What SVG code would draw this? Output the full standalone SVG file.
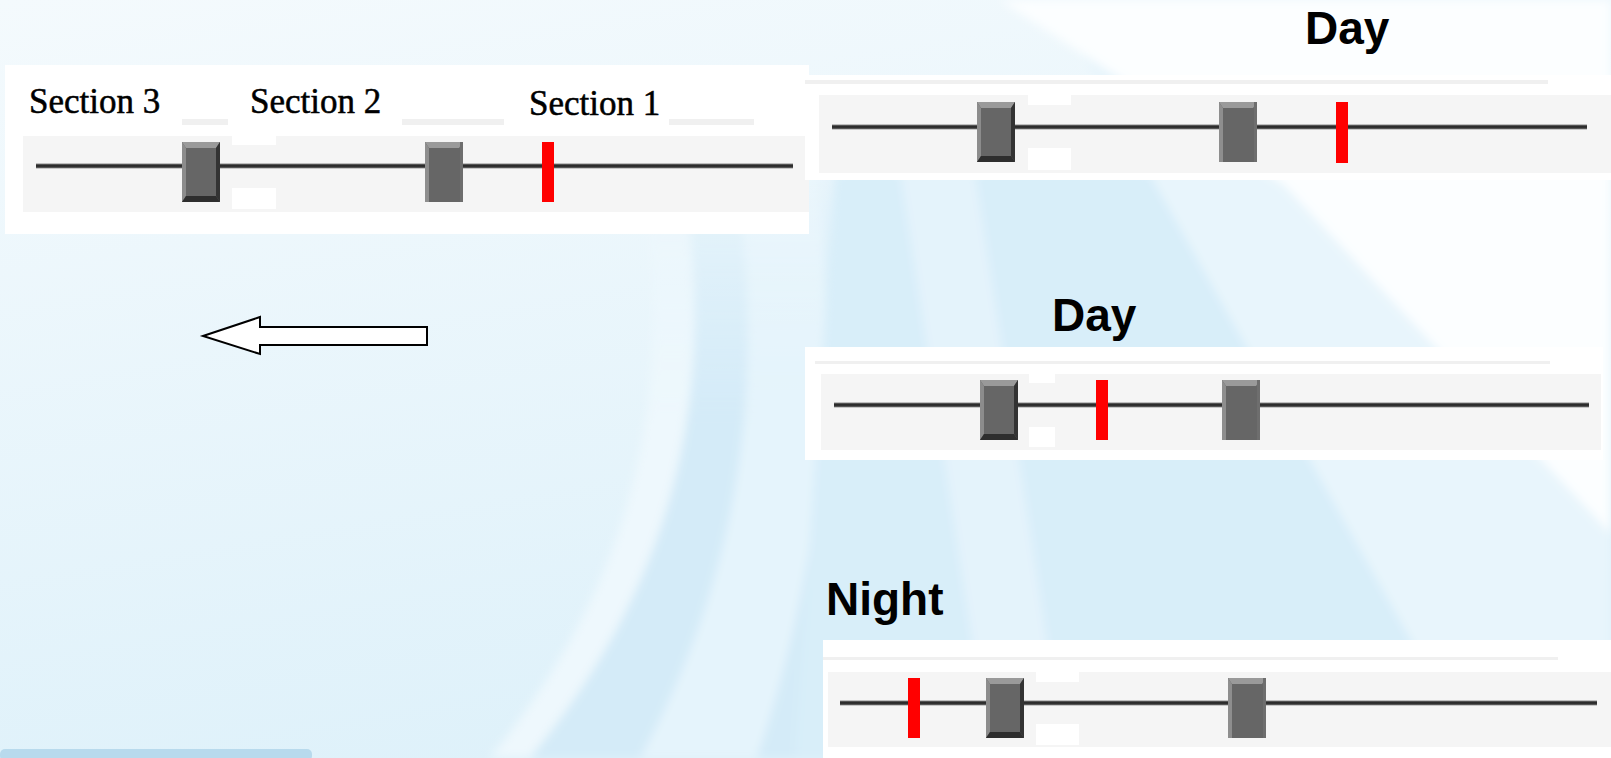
<svg xmlns="http://www.w3.org/2000/svg" xmlns:xlink="http://www.w3.org/1999/xlink" width="1611" height="758" viewBox="0 0 1611 758">
<style>
.sec{font-family:"Liberation Serif","Times New Roman",serif;font-size:35px;fill:#000;stroke:#000;stroke-width:0.5px}
.hd{font-family:"Liberation Sans",Arial,sans-serif;font-weight:bold;font-size:46px;fill:#000}
.panel{fill:#ffffff}
.track{fill:#f5f5f5}
.hair{fill:#f0f0f0}
.gap{fill:#ffffff}
.red{fill:#ff0000}
</style>
<defs>
<linearGradient id="bgGrad" x1="0" y1="0" x2="0.35" y2="1">
<stop offset="0" stop-color="#f4fafd"/>
<stop offset="1" stop-color="#def1fa"/>
</linearGradient>
<linearGradient id="fadeGrad" gradientUnits="userSpaceOnUse" x1="0" y1="120" x2="0" y2="420">
<stop offset="0" stop-color="#ffffff" stop-opacity="0"/>
<stop offset="1" stop-color="#ffffff" stop-opacity="1"/>
</linearGradient>
<mask id="fadeMask" maskUnits="userSpaceOnUse" x="0" y="0" width="1611" height="758">
<rect x="0" y="0" width="1611" height="758" fill="url(#fadeGrad)"/>
</mask>
<linearGradient id="lineGrad" x1="0" y1="0" x2="0" y2="1">
<stop offset="0" stop-color="#8a8a8a"/>
<stop offset="0.35" stop-color="#2a2a2a"/>
<stop offset="0.7" stop-color="#333333"/>
<stop offset="1" stop-color="#9a9a9a"/>
</linearGradient>
<filter id="soft" x="-5%" y="-5%" width="110%" height="110%">
<feGaussianBlur stdDeviation="5"/>
</filter>
<g id="thumbA">
<rect x="0" y="0" width="38" height="60" fill="#666666"/>
<polygon points="0,0 38,0 34,6 4,6" fill="#9a9a9a"/>
<polygon points="0,0 4,6 4,54 0,60" fill="#8c8c8c"/>
<polygon points="38,0 38,60 34,54 34,6" fill="#333333"/>
<polygon points="0,60 38,60 34,54 4,54" fill="#2e2e2e"/>
</g>
<g id="thumbB">
<rect x="0" y="0" width="38" height="60" fill="#666666"/>
<polygon points="0,0 38,0 34,6 4,6" fill="#9a9a9a"/>
<polygon points="0,0 4,6 4,60 0,60" fill="#8e8e8e"/>
<rect x="35" y="0" width="3" height="60" fill="#6e6e6e"/>
</g>
</defs>

<g id="background">
<rect x="0" y="0" width="1611" height="758" fill="url(#bgGrad)"/>
<g filter="url(#soft)">
<g mask="url(#fadeMask)">
<path d="M640,0 C715,250 740,500 530,758 L1611,758 L1611,0 Z" fill="#d4ebf8"/>
<path d="M700,0 C765,250 780,500 640,758 L757,758 C845,500 840,250 790,0 Z" fill="#e5f4fc"/>
<path d="M600,0 C672,250 700,500 490,758 L530,758 C740,500 715,250 640,0 Z" fill="#eef8fd"/>
</g>
<polygon points="835,172 1611,172 1611,758 795,758" fill="#d8eef9"/>
<polygon points="900,172 975,172 1065,758 990,758" fill="#e4f3fb"/>
<polygon points="1052,0 1611,0 1611,758 1477,758" fill="#e8f5fc"/>
<polygon points="1000,0 1611,0 1611,534 1428,339 1284,185" fill="#fcfeff"/>
</g>
<rect x="0" y="749" width="312" height="12" rx="5" fill="#b8daed"/>
</g>

<g id="panel-1">
<rect class="panel" x="5" y="65" width="804" height="169"/>
<rect class="hair" x="182" y="119" width="46" height="6"/>
<rect class="hair" x="402" y="119" width="102" height="6"/>
<rect class="hair" x="669" y="119" width="85" height="6"/>
<rect class="track" x="23" y="136" width="786" height="76"/>
<rect class="gap" x="232" y="136" width="44" height="9"/>
<rect class="gap" x="232" y="188" width="44" height="21"/>
<rect x="36" y="163.5" width="757" height="5" fill="url(#lineGrad)"/>
<use xlink:href="#thumbA" x="182" y="142"/>
<use xlink:href="#thumbB" x="425" y="142"/>
<rect class="red" x="542" y="142" width="12" height="60"/>
<text class="sec" x="29" y="113">Section 3</text>
<text class="sec" x="250" y="113">Section 2</text>
<text class="sec" x="529" y="115">Section 1</text>
</g>

<g id="panel-2">
<rect class="panel" x="805" y="75" width="806" height="105"/>
<rect class="hair" x="805" y="80" width="743" height="4"/>
<rect class="track" x="819" y="95" width="792" height="78"/>
<rect class="gap" x="1028" y="95" width="43" height="10"/>
<rect class="gap" x="1028" y="148" width="43" height="22"/>
<rect x="832" y="124.5" width="755" height="5" fill="url(#lineGrad)"/>
<use xlink:href="#thumbA" x="977" y="102"/>
<use xlink:href="#thumbB" x="1219" y="102"/>
<rect class="red" x="1336" y="102" width="12" height="61"/>
<text class="hd" x="1305" y="44">Day</text>
</g>

<g id="panel-3">
<rect class="panel" x="805" y="347" width="798" height="113"/>
<rect class="hair" x="815" y="361" width="735" height="3"/>
<rect class="track" x="821" y="374" width="780" height="76"/>
<rect class="gap" x="1029" y="374" width="26" height="9"/>
<rect class="gap" x="1029" y="427" width="26" height="20"/>
<rect x="834" y="402.5" width="755" height="5" fill="url(#lineGrad)"/>
<use xlink:href="#thumbA" x="980" y="380"/>
<rect class="red" x="1096" y="380" width="12" height="60"/>
<use xlink:href="#thumbB" x="1222" y="380"/>
<text class="hd" x="1052" y="331">Day</text>
</g>

<g id="panel-4">
<rect class="panel" x="823" y="640" width="788" height="118"/>
<rect class="hair" x="823" y="657" width="735" height="3"/>
<rect class="track" x="828" y="672" width="783" height="75"/>
<rect class="gap" x="1036" y="672" width="43" height="10"/>
<rect class="gap" x="1036" y="724" width="43" height="21"/>
<rect x="840" y="700.5" width="757" height="5" fill="url(#lineGrad)"/>
<rect class="red" x="908" y="678" width="12" height="60"/>
<use xlink:href="#thumbA" x="986" y="678"/>
<use xlink:href="#thumbB" x="1228" y="678"/>
<text class="hd" x="826" y="615">Night</text>
</g>

<g id="connectors">
<polygon points="203,336 260,317 260,327 427,327 427,345 260,345 260,354" fill="#ffffff" stroke="#000000" stroke-width="2" stroke-linejoin="miter"/>
</g>
</svg>
